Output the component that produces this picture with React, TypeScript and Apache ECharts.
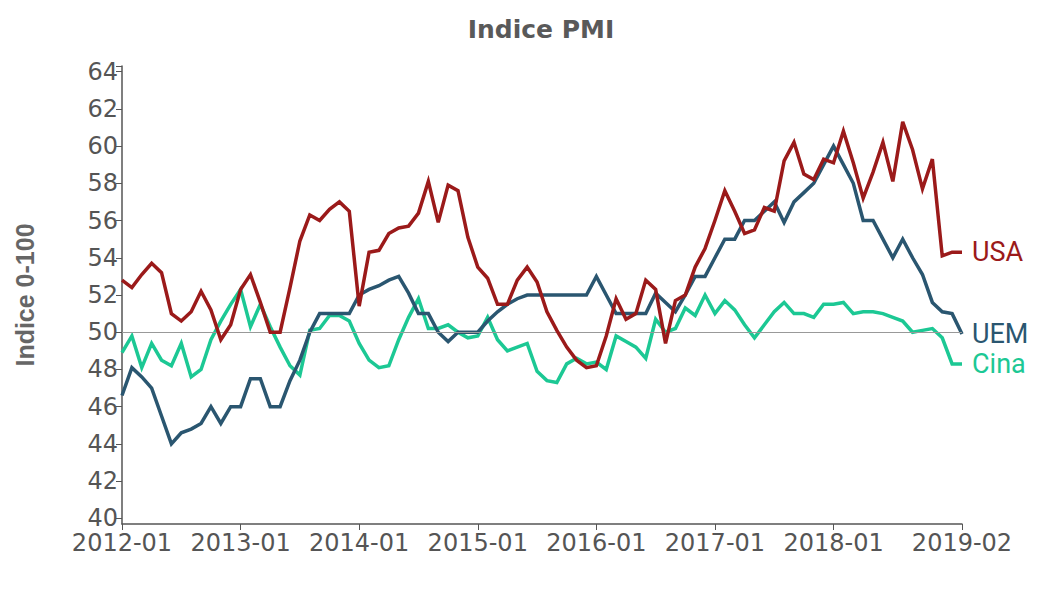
import React, { useEffect, useRef } from "react";
import * as echarts from "echarts";

const months: string[] = (() => {
  const out: string[] = [];
  for (let y = 2012; y <= 2019; y++) {
    for (let m = 1; m <= 12; m++) {
      if (y === 2019 && m > 2) break;
      out.push(`${y}-${String(m).padStart(2, "0")}`);
    }
  }
  return out;
})();

const usa: number[] = [
  52.8, 52.4, 53.1, 53.7, 53.2, 51.0, 50.6, 51.1, 52.2, 51.2, 49.6, 50.4,
  52.3, 53.1, 51.6, 50.0, 50.0, 52.4, 54.9, 56.3, 56.0, 56.6, 57.0, 56.5,
  51.4, 54.3, 54.4, 55.3, 55.6, 55.7, 56.4, 58.1, 55.9, 57.9, 57.6, 55.1,
  53.5, 52.9, 51.5, 51.5, 52.8, 53.5, 52.7, 51.1, 50.1, 49.2, 48.5, 48.1,
  48.2, 49.8, 51.8, 50.7, 51.0, 52.8, 52.3, 49.4, 51.7, 52.0, 53.5, 54.5,
  56.0, 57.6, 56.5, 55.3, 55.5, 56.7, 56.5, 59.2, 60.2, 58.5, 58.2, 59.3,
  59.1, 60.8, 59.1, 57.2, 58.6, 60.2, 58.1, 61.3, 59.8, 57.7, 59.3, 54.1,
  54.3, 54.3,
];

const uem: number[] = [
  46.6, 48.1, 47.6, 47.0, 45.5, 44.0, 44.6, 44.8, 45.1, 46.0, 45.1, 46.0,
  46.0, 47.5, 47.5, 46.0, 46.0, 47.4, 48.5, 50.0, 51.0, 51.0, 51.0, 51.0,
  52.0, 52.3, 52.5, 52.8, 53.0, 52.1, 51.0, 51.0, 50.0, 49.5, 50.0, 50.0,
  50.0, 50.6, 51.1, 51.5, 51.8, 52.0, 52.0, 52.0, 52.0, 52.0, 52.0, 52.0,
  53.0, 52.0, 51.0, 51.0, 51.0, 51.0, 52.1, 51.6, 51.1, 52.0, 53.0, 53.0,
  54.0, 55.0, 55.0, 56.0, 56.0, 56.5, 57.0, 55.9, 57.0, 57.5, 58.0, 59.0,
  60.0, 59.0, 58.0, 56.0, 56.0, 55.0, 54.0, 55.0, 54.0, 53.1, 51.6, 51.1,
  51.0, 49.9,
];

const cina: number[] = [
  48.9, 49.8, 48.1, 49.4, 48.5, 48.2, 49.4, 47.6, 48.0, 49.6, 50.6, 51.5,
  52.3, 50.3, 51.5, 50.3, 49.2, 48.2, 47.7, 50.1, 50.2, 50.9, 50.9, 50.6,
  49.4, 48.5, 48.1, 48.2, 49.6, 50.8, 51.8, 50.2, 50.2, 50.4, 50.0, 49.7,
  49.8, 50.8, 49.6, 49.0, 49.2, 49.4, 47.9, 47.4, 47.3, 48.3, 48.6, 48.3,
  48.4, 48.0, 49.8, 49.5, 49.2, 48.6, 50.7, 50.0, 50.2, 51.3, 50.9, 52.0,
  51.0, 51.7, 51.2, 50.4, 49.7, 50.4, 51.1, 51.6, 51.0, 51.0, 50.8, 51.5,
  51.5, 51.6, 51.0, 51.1, 51.1, 51.0, 50.8, 50.6, 50.0, 50.1, 50.2, 49.7,
  48.3, 48.3,
];

const xLabelMonths: string[] = [
  "2012-01", "2013-01", "2014-01", "2015-01", "2016-01", "2017-01", "2018-01", "2019-02",
];
const yTicks: number[] = [40, 42, 44, 46, 48, 50, 52, 54, 56, 58, 60, 62, 64];
const threshold = 50;

const COLORS = { usa: "#9b1a1a", uem: "#2a5670", cina: "#1cc894" };

export default function App() {
  const ref = useRef<HTMLDivElement>(null);
  useEffect(() => {
    document.body.style.margin = "0";
    if (!ref.current) return;
    const chart = echarts.init(ref.current, undefined, { renderer: "svg" });
    const showIdx = (i: number) => xLabelMonths.includes(months[i]);
    const endLabel = (color: string) => ({
      show: true,
      formatter: "{a}",
      color,
      fontFamily: "Roboto",
      fontSize: 27,
      distance: 10,
    });
    const line = (name: string, data: number[], color: string, z: number) => ({
      name,
      type: "line",
      data,
      symbol: "none",
      z,
      lineStyle: { color, width: 3.5, join: "miter" },
      itemStyle: { color },
      endLabel: endLabel(color),
    });
    chart.setOption({
      animation: false,
      grid: { left: 122, right: 94, top: 66, bottom: 72, outerBoundsMode: "none", containLabel: false },
      graphic: [
        {
          type: "text",
          x: 541,
          y: 29,
          style: {
            text: "Indice PMI",
            fill: "#595959",
            font: "bold 25px 'DejaVu Sans'",
            textAlign: "center",
            textVerticalAlign: "middle",
          },
        },
        {
          type: "text",
          x: 25,
          y: 295,
          rotation: Math.PI / 2,
          style: {
            text: "Indice 0-100",
            fill: "#666666",
            font: "bold 25px 'Liberation Sans'",
            textAlign: "center",
            textVerticalAlign: "middle",
          },
        },
      ],
      xAxis: {
        type: "category",
        data: months,
        boundaryGap: false,
        axisLine: { show: true, lineStyle: { color: "#555", width: 1.5 } },
        axisTick: { show: true, interval: (i: number) => showIdx(i), length: 6, lineStyle: { color: "#555" } },
        axisLabel: {
          interval: (i: number) => showIdx(i),
          fontFamily: "DejaVu Sans",
          fontSize: 24,
          color: "#555",
          margin: 7,
          hideOverlap: false,
        },
        splitLine: { show: false },
      },
      yAxis: {
        type: "value",
        min: 39.7,
        max: 64.3,
        axisLine: { show: true, lineStyle: { color: "#555", width: 1.5 } },
        axisTick: { show: true, length: 6, customValues: [...yTicks, 64.3], lineStyle: { color: "#555" } },
        axisLabel: {
          customValues: yTicks,
          fontFamily: "DejaVu Sans",
          fontSize: 24,
          lineHeight: 18,
          color: "#555",
          margin: 4,
        },
        splitLine: { show: false },
      },
      series: [
        {
          name: "ref",
          type: "line",
          data: [],
          z: 1,
          silent: true,
          markLine: {
            silent: true,
            symbol: ["none", "none"],
            label: { show: false },
            lineStyle: { color: "#999", width: 1, type: "solid" },
            data: [{ yAxis: threshold }],
          },
        },
        line("Cina", cina, COLORS.cina, 3),
        line("UEM", uem, COLORS.uem, 4),
        line("USA", usa, COLORS.usa, 5),
      ],
    });
    return () => chart.dispose();
  }, []);
  return <div ref={ref} style={{ width: 1056, height: 596 }} />;
}
